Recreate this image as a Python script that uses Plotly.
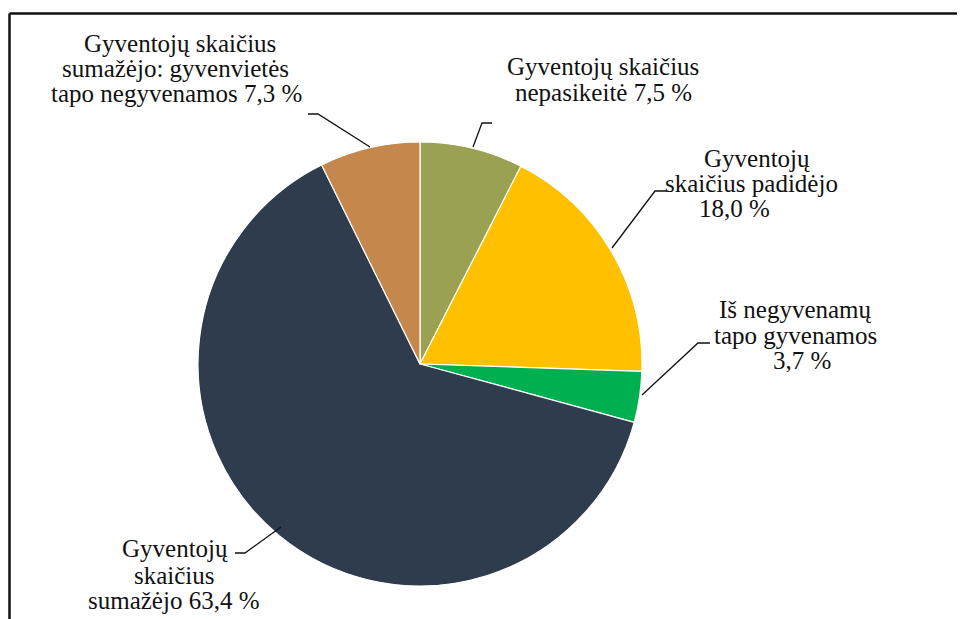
import plotly.graph_objects as go

# ---- data (clockwise from 12 o'clock) ----
categories = [
    "Gyventojų skaičius nepasikeitė",
    "Gyventojų skaičius padidėjo",
    "Iš negyvenamų tapo gyvenamos",
    "Gyventojų skaičius sumažėjo",
    "Gyventojų skaičius sumažėjo: gyvenvietės tapo negyvenamos",
]
values = [7.5, 18.0, 3.7, 63.4, 7.3]
colors = ["#9BA152", "#FFC000", "#00B050", "#2E3C4E", "#C5874B"]

# label text lines; last line gets the value appended
label_lines = [
    ["Gyventojų skaičius", "nepasikeitė"],
    ["Gyventojų", "skaičius padidėjo", ""],
    ["Iš negyvenamų", "tapo gyvenamos", ""],
    ["Gyventojų", "skaičius", "sumažėjo"],
    ["Gyventojų skaičius", "sumažėjo: gyvenvietės", "tapo negyvenamos"],
]

# ---- layout helpers (page pixel positions of text lines: centre x, baseline y) ----
W, H = 965, 619
OFF = 8  # page body margin
line_pos = [
    [(603, 75), (603, 100)],
    [(757, 166), (751, 191), (734, 216)],
    [(795, 317), (795, 343), (802, 368)],
    [(175, 556), (174, 583), (173, 608)],
    [(180, 51), (175, 76), (176, 102)],
]
leaders = [
    [(473, 147), (482, 123), (492, 123)],
    [(612, 248), (655, 191), (667, 191)],
    [(642, 395), (698, 343), (710, 343)],
    [(281, 527), (245, 553), (235, 553)],
    [(370, 147), (318, 114), (308, 114)],
]

def px(x):
    return (x - OFF) / W

def py(y):
    return 1 - (y - OFF) / H

def fmt(v):
    return f"{v:.1f}".replace(".", ",") + " %"

FS = 25
FONT = "Liberation Serif"
cx, cy, r = 420, 364, 222

fig = go.Figure()
fig.add_trace(go.Pie(
    labels=categories,
    values=values,
    sort=False,
    direction="clockwise",
    rotation=0,
    marker=dict(colors=colors, line=dict(color="white", width=1.2)),
    textinfo="none",
    hoverinfo="label+value",
    showlegend=False,
    domain=dict(x=[px(cx - r), px(cx + r)], y=[py(cy + r), py(cy - r)]),
))

annotations = []
for lines, poss, v in zip(label_lines, line_pos, values):
    for i, (t, (x, y)) in enumerate(zip(lines, poss)):
        if i == len(lines) - 1:
            t = (t + " " + fmt(v)).strip()
        annotations.append(dict(
            x=px(x), y=py(y - 8), xref="paper", yref="paper",
            text=t, showarrow=False, xanchor="center", yanchor="middle",
            font=dict(family=FONT, size=FS, color="#111111"),
        ))

shapes = []
for pts in leaders:
    path = "M " + " L ".join(f"{px(x)},{py(y)}" for x, y in pts)
    shapes.append(dict(type="path", path=path, xref="paper", yref="paper",
                       line=dict(color="#111111", width=1.3)))
# frame (top and left edges)
shapes.append(dict(type="line", xref="paper", yref="paper",
                   x0=px(9.5), y0=py(13.5), x1=1.01, y1=py(13.5),
                   line=dict(color="#111111", width=2.5)))
shapes.append(dict(type="line", xref="paper", yref="paper",
                   x0=px(9.5), y0=py(13.5), x1=px(9.5), y1=-0.01,
                   line=dict(color="#111111", width=2.5)))

fig.update_layout(
    width=W, height=H,
    margin=dict(l=0, r=0, t=0, b=0),
    paper_bgcolor="white", plot_bgcolor="white",
    font=dict(family=FONT),
    annotations=annotations, shapes=shapes,
)

fig.write_html("out.html")
